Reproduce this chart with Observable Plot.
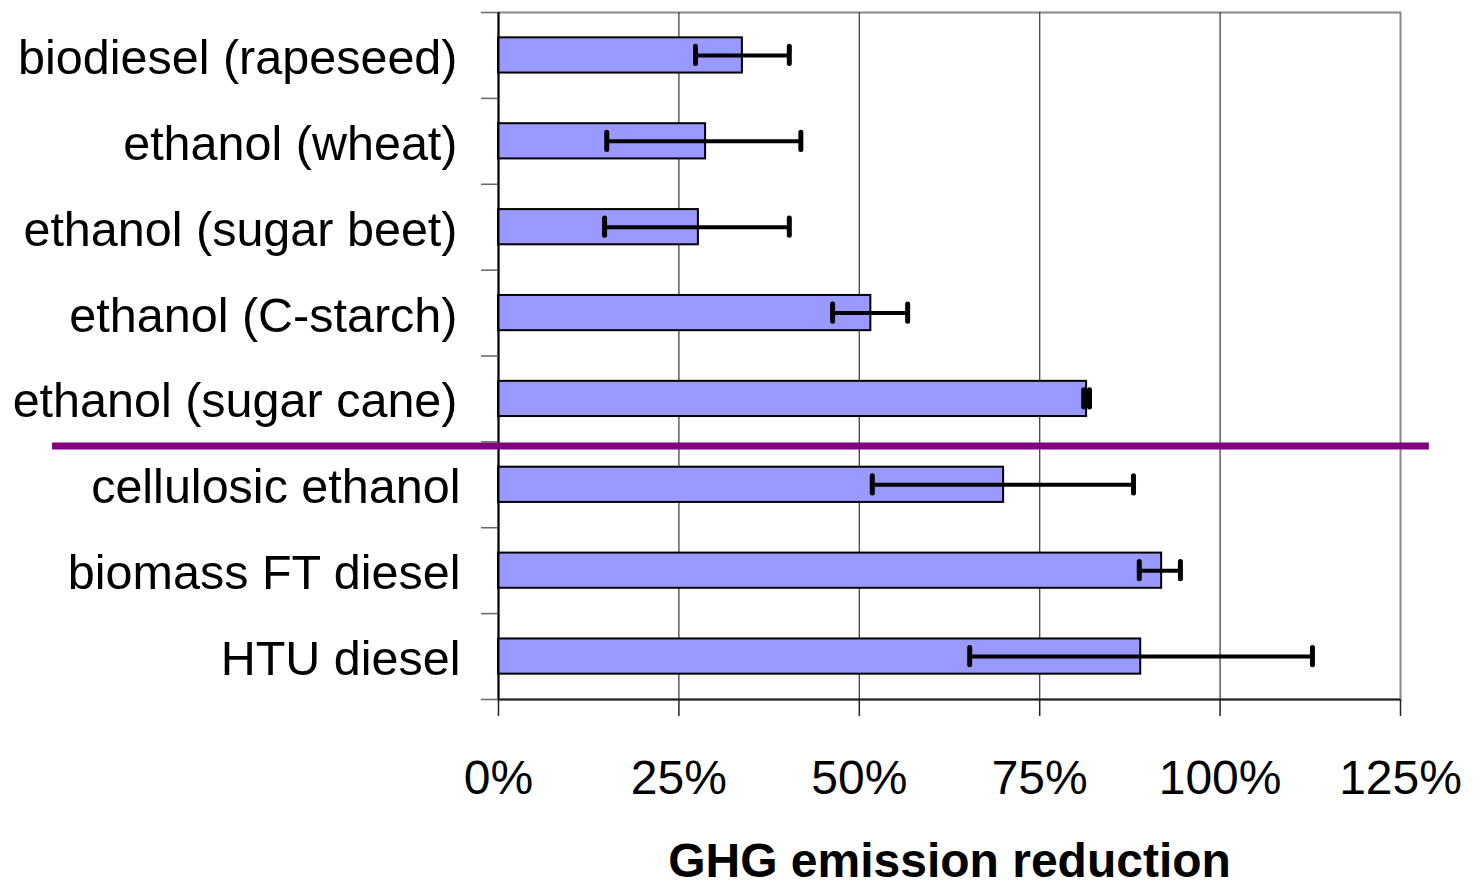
<!DOCTYPE html>
<html>
<head>
<meta charset="utf-8">
<script src="https://cdn.jsdelivr.net/npm/d3@7"></script>
<script src="https://cdn.jsdelivr.net/npm/@observablehq/plot@0.6"></script>
<style>
  html, body { margin: 0; padding: 0; background: white; }
</style>
</head>
<body>
<div id="chart"></div>
<script>
const categories = ["biodiesel (rapeseed)", "ethanol (wheat)", "ethanol (sugar beet)", "ethanol (C-starch)", "ethanol (sugar cane)", "cellulosic ethanol", "biomass FT diesel", "HTU diesel"];
const reduction = [0.338, 0.287, 0.277, 0.516, 0.815, 0.700, 0.919, 0.890];
const errorLow  = [0.273, 0.150, 0.147, 0.463, 0.811, 0.518, 0.888, 0.653];
const errorHigh = [0.403, 0.419, 0.403, 0.567, 0.819, 0.880, 0.945, 1.128];
const xTicks = [0, 0.25, 0.5, 0.75, 1, 1.25];
const gridTicks = [0.25, 0.5, 0.75, 1];
const separatorAfter = "ethanol (sugar cane)";
const separatorExtent = [-0.618, 1.29];
const axisTitle = "GHG emission reduction";

const data = categories.map((c, i) => ({cat: c, value: reduction[i], lo: errorLow[i], hi: errorHigh[i]}));

const W = 1481, H = 885, mt = 12, mb = 186, ml = 498, mr = 81;
const step = (H - mt - mb) / categories.length;
const sepIndex = categories.indexOf(separatorAfter);
const upperGroup = categories.slice(0, sepIndex + 1);
const lowerGroup = categories.slice(sepIndex + 1);

const chart = Plot.plot({
  width: W, height: H,
  marginLeft: ml, marginRight: mr, marginTop: mt, marginBottom: mb,
  style: {fontFamily: "'Liberation Sans', Arial, sans-serif", fontSize: "48px", background: "white", overflow: "visible", color: "black"},
  x: {domain: [0, 1.25]},
  y: {domain: categories, paddingInner: 0.59, paddingOuter: 0.295, round: false},
  marks: [
    Plot.frame({stroke: "#888", strokeWidth: 2}),
    Plot.ruleX(gridTicks, {stroke: "#444", strokeWidth: 1.3}),
    Plot.barX(data, {x: "value", y: "cat", fill: "#9999ff", stroke: "black", strokeWidth: 2}),
    Plot.ruleY(data, {y: "cat", x1: "lo", x2: "hi", stroke: "black", strokeWidth: 4}),
    Plot.tickX(data, {x: "lo", y: "cat", stroke: "black", strokeWidth: 5, strokeLinecap: "round", insetTop: 9, insetBottom: 9}),
    Plot.tickX(data, {x: "hi", y: "cat", stroke: "black", strokeWidth: 5, strokeLinecap: "round", insetTop: 9, insetBottom: 9}),
    Plot.ruleX([0], {stroke: "black", strokeWidth: 2}),
    Plot.ruleY([categories[categories.length - 1]], {dy: step / 2, stroke: "#222", strokeWidth: 2}),
    Plot.ruleY([{cat: categories[sepIndex + 1], x1: separatorExtent[0], x2: separatorExtent[1]}],
      {y: "cat", x1: "x1", x2: "x2", dy: -step / 2 + 4, stroke: "#800080", strokeWidth: 7}),
    Plot.axisY(upperGroup, {tickSize: 0, tickPadding: 41, fontSize: 48.5, dy: 3, label: null}),
    Plot.axisY(lowerGroup, {tickSize: 0, tickPadding: 38, fontSize: 48.5, dy: 3, label: null}),
    Plot.axisY({tickSize: 17, tickFormat: () => "", stroke: "#666", strokeWidth: 1.5, dy: -step / 2, label: null}),
    Plot.axisY([categories[categories.length - 1]], {tickSize: 17, tickFormat: () => "", stroke: "#666", strokeWidth: 1.5, dy: step / 2, label: null}),
    Plot.axisX({ticks: xTicks, tickFormat: d3.format(".0%"), tickSize: 17, tickPadding: 43, fontSize: 48, stroke: "#222", strokeWidth: 1.5, label: null}),
    Plot.text([axisTitle], {frameAnchor: "bottom", dy: 177, fontSize: 48, fontWeight: "bold", fill: "black"})
  ]
});
document.getElementById("chart").appendChild(chart);
</script>
</body>
</html>
